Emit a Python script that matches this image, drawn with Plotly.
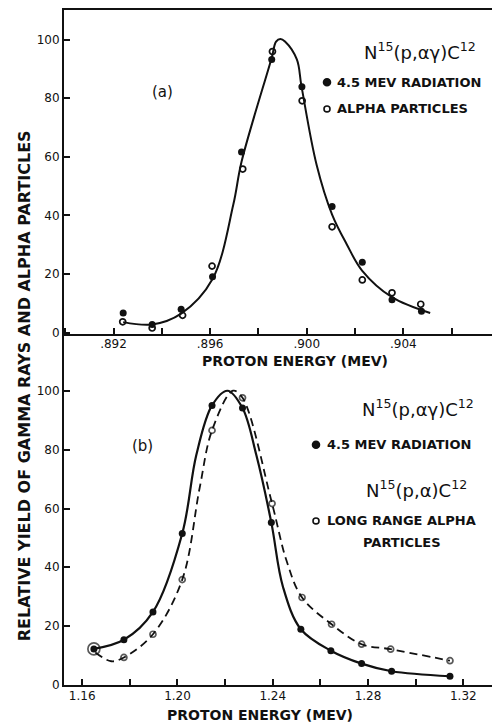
import plotly.graph_objects as go

# ---------------- data ----------------
# Panel (a): N15(p, alpha gamma)C12 near .898 MeV
a_gamma_x = [0.8924, 0.8936, 0.8948, 0.8961, 0.8973, 0.89855, 0.8998, 0.90105, 0.9023, 0.90353, 0.90475]
a_gamma_y = [6.7, 2.8, 8.0, 19.1, 61.6, 93.2, 83.9, 43.0, 24.0, 11.2, 7.3]
a_alpha_x = [0.89238, 0.8936, 0.89486, 0.89608, 0.89735, 0.89858, 0.89981, 0.90105, 0.9023, 0.90353, 0.90472]
a_alpha_y = [3.7, 1.6, 5.9, 22.7, 55.8, 95.9, 79.1, 36.1, 18.0, 13.6, 9.7]
a_curve_x = [0.8924, 0.8936, 0.8948, 0.8961, 0.89696, 0.8973, 0.89855, 0.89873, 0.89891, 0.8991,
             0.89959, 0.89978, 0.90041, 0.90105, 0.90166, 0.90229, 0.90353, 0.90511]
a_curve_y = [3.6, 2.8, 6.5, 18.3, 43.7, 58.3, 93.8, 99.3, 100.2, 99.3,
             93.2, 84.2, 57.2, 40.3, 30.1, 21.2, 12.1, 6.7]

# Panel (b): resonance near 1.21 MeV
b_gamma_x = [1.1649, 1.1775, 1.1897, 1.2020, 1.2145, 1.2273, 1.2394, 1.2518, 1.2644, 1.2773, 1.2899, 1.3144]
b_gamma_y = [12.2, 15.3, 24.8, 51.5, 95.1, 94.2, 55.2, 18.9, 11.6, 7.2, 4.6, 2.9]
b_alpha_x = [1.1649, 1.1775, 1.1897, 1.2020, 1.2145, 1.2273, 1.2397, 1.2523, 1.2647, 1.2773, 1.2895, 1.3144]
b_alpha_y = [12.2, 9.3, 17.2, 35.8, 86.6, 97.7, 61.7, 29.7, 20.6, 13.8, 12.1, 8.2]
b_solid_x = [1.1649, 1.1775, 1.1897, 1.2020, 1.2079, 1.2145, 1.2210, 1.2273, 1.2331, 1.2394,
             1.2443, 1.2518, 1.2644, 1.2773, 1.2899, 1.3144]
b_solid_y = [12.2, 15.3, 24.8, 51.5, 78.2, 95.1, 100.1, 94.2, 78.2, 55.2,
             33.3, 18.9, 11.6, 7.2, 4.6, 2.9]
b_dash_x = [1.1655, 1.1722, 1.1775, 1.1897, 1.2020, 1.2093, 1.2145, 1.2233, 1.2273, 1.2397,
            1.2458, 1.2523, 1.2647, 1.2773, 1.2895, 1.3144]
b_dash_y = [11.0, 8.0, 9.3, 17.2, 35.8, 67.0, 86.6, 100.1, 97.7, 61.7,
            42.2, 29.7, 20.6, 13.8, 12.1, 8.2]

# Tick labels
a_tick_vals = [0.892, 0.896, 0.900, 0.904]
a_tick_text = [".892", ".896", ".900", ".904"]
b_tick_vals = [1.16, 1.20, 1.24, 1.28, 1.32]
b_tick_text = ["1.16", "1.20", "1.24", "1.28", "1.32"]
y_tick_vals = [0, 20, 40, 60, 80, 100]
y_tick_text = ["0", "20", "40", "60", "80", "100"]

# ---------------- layout helpers ----------------
W, H = 492, 728
def PX(x):
    return x / W
def PY(y):
    return 1 - y / H

FONT = "DejaVu Sans"
INK = "#111111"

fig = go.Figure()

# Panel (a)
fig.add_trace(go.Scatter(x=a_curve_x, y=a_curve_y, mode="lines",
                         line=dict(color=INK, width=2, shape="spline", smoothing=1.0),
                         xaxis="x", yaxis="y", hoverinfo="skip"))
fig.add_trace(go.Scatter(x=a_alpha_x, y=a_alpha_y, mode="markers",
                         marker=dict(symbol="circle-open", size=6, color=INK, line=dict(width=1.7, color=INK)),
                         xaxis="x", yaxis="y"))
fig.add_trace(go.Scatter(x=a_gamma_x, y=a_gamma_y, mode="markers",
                         marker=dict(symbol="circle", size=7, color=INK),
                         xaxis="x", yaxis="y"))

# Panel (b)
fig.add_trace(go.Scatter(x=b_dash_x, y=b_dash_y, mode="lines",
                         line=dict(color=INK, width=1.8, dash="8px,5px", shape="spline", smoothing=1.0),
                         xaxis="x2", yaxis="y2", hoverinfo="skip"))
fig.add_trace(go.Scatter(x=b_solid_x, y=b_solid_y, mode="lines",
                         line=dict(color=INK, width=2.2, shape="spline", smoothing=1.0),
                         xaxis="x2", yaxis="y2", hoverinfo="skip"))
b_alpha_sizes = [12] + [6] * (len(b_alpha_x) - 1)
fig.add_trace(go.Scatter(x=b_alpha_x, y=b_alpha_y, mode="markers",
                         marker=dict(symbol="circle-open", size=b_alpha_sizes, color=INK, line=dict(width=1.7, color=INK)),
                         xaxis="x2", yaxis="y2"))
fig.add_trace(go.Scatter(x=b_gamma_x, y=b_gamma_y, mode="markers",
                         marker=dict(symbol="circle", size=7, color=INK),
                         xaxis="x2", yaxis="y2"))

tickfont = dict(family=FONT, size=12, color=INK)
axis_common = dict(showgrid=False, zeroline=False, showline=True, linecolor=INK, linewidth=2,
                   ticks="inside", tickcolor=INK, tickwidth=1.5, ticklen=6, tickfont=tickfont)
minor_x = lambda d: dict(ticks="inside", dtick=d, ticklen=6, tickwidth=1.5, tickcolor=INK, showgrid=False)

x_dom = [PX(64), 1.0]
fig.update_layout(
    width=W, height=H,
    margin=dict(l=0, r=0, t=0, b=0),
    paper_bgcolor="white", plot_bgcolor="white",
    showlegend=False,
    xaxis=dict(domain=x_dom, anchor="y", range=[0.88995, 0.90767],
               tickmode="array", tickvals=a_tick_vals, ticktext=a_tick_text,
               minor=dict(tick0=0.892, **minor_x(0.002)), ticklabelstandoff=-2,
               mirror=True, **axis_common),
    yaxis=dict(domain=[PY(337), PY(10)], anchor="x", range=[-0.37, 110.1],
               tickmode="array", tickvals=y_tick_vals, ticktext=y_tick_text, **axis_common),
    xaxis2=dict(domain=x_dom, anchor="y2", range=[1.15235, 1.33205],
                tickmode="array", tickvals=b_tick_vals, ticktext=b_tick_text,
                minor=dict(tick0=1.16, **minor_x(0.02)), ticklabelstandoff=-1,
                **axis_common),
    yaxis2=dict(domain=[PY(691.7), PY(337)], anchor="x2", range=[-0.1, 119.5],
                tickmode="array", tickvals=y_tick_vals, ticktext=y_tick_text, **axis_common),
)

annots = []
def add_text(text, x, y, xanchor="center", size=13, weight="bold", angle=0, family=FONT):
    annots.append(dict(text=text, x=PX(x), y=PY(y), xref="paper", yref="paper",
                       xanchor=xanchor, yanchor="middle", showarrow=False, textangle=angle,
                       font=dict(family=family, size=size, color=INK, weight=weight)))

# Panel (a) texts
add_text("(a)", 162, 93, size=15, weight="normal")
add_text("N<sup>15</sup>(p,αγ)C<sup>12</sup>", 420, 52, size=18, weight="normal")
add_text("4.5 MEV RADIATION", 335, 83, xanchor="left")
add_text("ALPHA PARTICLES", 335, 110, xanchor="left")
add_text("PROTON ENERGY (MEV)", 295, 365, size=14)

# Panel (b) texts
add_text("(b)", 142, 450, size=15, weight="normal")
add_text("N<sup>15</sup>(p,αγ)C<sup>12</sup>", 418, 412, size=18, weight="normal")
add_text("4.5 MEV RADIATION", 325, 449, xanchor="left")
add_text("N<sup>15</sup>(p,α)C<sup>12</sup>", 416, 494, size=18, weight="normal")
add_text("LONG RANGE ALPHA", 325, 526, xanchor="left")
add_text("PARTICLES", 402, 548)
add_text("PROTON ENERGY (MEV)", 260, 722, size=14)

# Shared y-axis title
add_text("RELATIVE YIELD OF GAMMA RAYS AND ALPHA PARTICLES", 24, 390, size=16, angle=-90)

fig.update_layout(annotations=annots)

# Legend symbols drawn as shapes (layout, not data)
def dot(cx, cy, r, filled):
    return dict(type="circle", xref="paper", yref="paper",
                x0=PX(cx - r), x1=PX(cx + r), y0=PY(cy + r), y1=PY(cy - r),
                line=dict(color=INK, width=1.6),
                fillcolor=INK if filled else "white")

fig.update_layout(shapes=[
    dot(327, 83, 3.5, True),
    dot(327, 110, 3.0, False),
    dot(316, 449, 3.5, True),
    dot(316, 526, 3.0, False),
])

fig.write_html("out.html")
